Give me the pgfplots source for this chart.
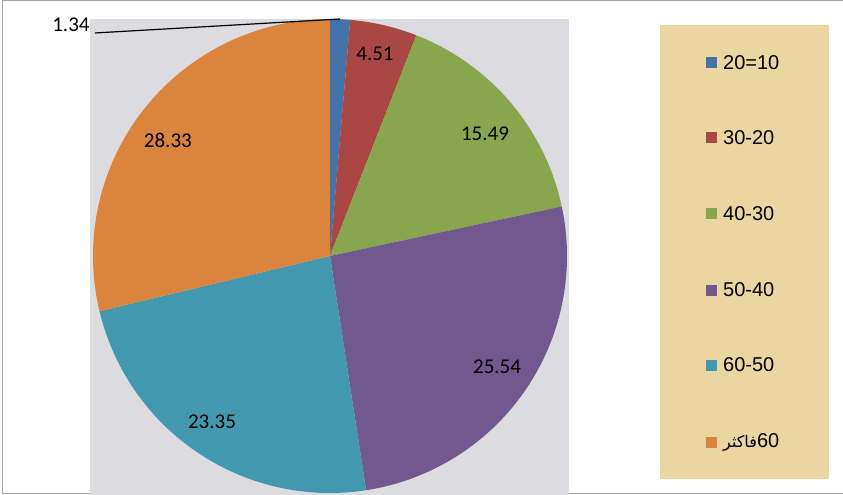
\documentclass[border=0pt]{standalone}
\usepackage{pgfplots}
\pgfplotsset{compat=1.18}
\usepackage{fontspec}
\setmainfont{Liberation Sans}
\newfontfamily\carlito{Carlito}
\newfontfamily\arabicfont[Script=Arabic]{DejaVu Sans}
\TeXXeTstate=1

\definecolor{cA}{HTML}{4572A7}
\definecolor{cB}{HTML}{AA4643}
\definecolor{cC}{HTML}{89A54E}
\definecolor{cD}{HTML}{71588F}
\definecolor{cE}{HTML}{4198AF}
\definecolor{cF}{HTML}{DB843D}
\definecolor{marble}{HTML}{DCDCE0}
\definecolor{parch}{HTML}{EBD6A1}

\tikzset{lbl/.style={font=\carlito\fontsize{21bp}{24bp}\selectfont, inner sep=0pt}}

% slice values
\def\vA{1.34}
\def\vB{4.51}
\def\vC{15.49}
\def\vD{25.54}
\def\vE{23.35}
\def\vF{28.33}
\pgfmathsetmacro\tot{\vA+\vB+\vC+\vD+\vE+\vF}
\pgfmathsetmacro\aA{90}
\pgfmathsetmacro\aB{\aA-360*\vA/\tot}
\pgfmathsetmacro\aC{\aB-360*\vB/\tot}
\pgfmathsetmacro\aD{\aC-360*\vC/\tot}
\pgfmathsetmacro\aE{\aD-360*\vD/\tot}
\pgfmathsetmacro\aF{\aE-360*\vE/\tot}
\pgfmathsetmacro\aG{\aF-360*\vF/\tot}

\begin{document}
\begin{tikzpicture}
\useasboundingbox (-330bp,-239bp) rectangle (513bp,256bp);
% outer frame
\draw[gray!70, line width=1bp] (-327bp,-237bp) rectangle (530bp,255bp);
\begin{axis}[
    anchor=origin, at={(0,0)},
    x=237bp, y=237bp,
    xmin=-1.013, xmax=1.008, ymin=-1.008, ymax=1.0,
    ticks=none,
    axis line style={draw=none},
    axis background/.style={fill=marble},
    clip=false,
  ]
  \addplot[fill=cA, draw=none, domain=\aB:\aA, samples=20] ({cos(x)},{sin(x)}) -- (axis cs:0,0) -- cycle;
  \addplot[fill=cB, draw=none, domain=\aC:\aB, samples=30] ({cos(x)},{sin(x)}) -- (axis cs:0,0) -- cycle;
  \addplot[fill=cC, draw=none, domain=\aD:\aC, samples=60] ({cos(x)},{sin(x)}) -- (axis cs:0,0) -- cycle;
  \addplot[fill=cD, draw=none, domain=\aE:\aD, samples=90] ({cos(x)},{sin(x)}) -- (axis cs:0,0) -- cycle;
  \addplot[fill=cE, draw=none, domain=\aF:\aE, samples=90] ({cos(x)},{sin(x)}) -- (axis cs:0,0) -- cycle;
  \addplot[fill=cF, draw=none, domain=\aG:\aF, samples=100] ({cos(x)},{sin(x)}) -- (axis cs:0,0) -- cycle;

  \node[lbl] at (axis cs:0.190,0.852) {4.51};
  \node[lbl] at (axis cs:0.654,0.515) {15.49};
  \node[lbl] at (axis cs:0.705,-0.468) {25.54};
  \node[lbl] at (axis cs:-0.498,-0.700) {23.35};
  \node[lbl] at (axis cs:-0.684,0.489) {28.33};
  \node[lbl] at (axis cs:-1.093,0.975) {1.34};
  \draw[black, line width=1.2bp] (axis cs:-0.992,0.941) -- (axis cs:0.042,1.0);
\end{axis}
% legend
\fill[parch] (330bp,231bp) rectangle (499bp,-223bp);
\begin{scope}[every node/.style={anchor=west, inner sep=0pt, font=\fontsize{20bp}{24bp}\selectfont}]
  \fill[cA] (376bp,187.5bp) rectangle (387bp,198.5bp);
  \node at (393bp,193bp) {20=10};
  \fill[cB] (376bp,112.5bp) rectangle (387bp,123.5bp);
  \node at (393bp,118bp) {30-20};
  \fill[cC] (376bp,36.5bp) rectangle (387bp,47.5bp);
  \node at (393bp,42bp) {40-30};
  \fill[cD] (376bp,-39.5bp) rectangle (387bp,-28.5bp);
  \node at (393bp,-34bp) {50-40};
  \fill[cE] (376bp,-114.5bp) rectangle (387bp,-103.5bp);
  \node at (393bp,-109bp) {60-50};
  \fill[cF] (376bp,-191.5bp) rectangle (387bp,-180.5bp);
  \node at (393bp,-186bp) {{\arabicfont\fontsize{16bp}{20bp}\selectfont\beginR فاكثر\endR}60};
\end{scope}
\end{tikzpicture}
\end{document}
